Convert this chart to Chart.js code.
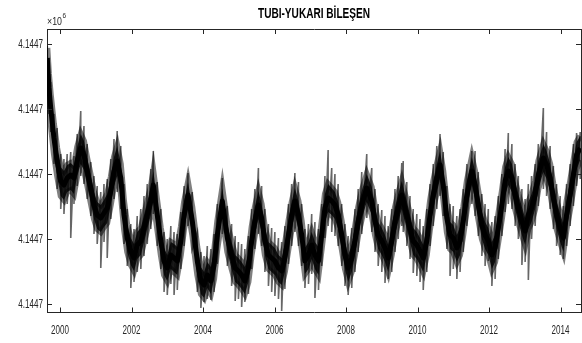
<!DOCTYPE html>
<html>
<head>
<meta charset="utf-8">
<script src="https://cdn.jsdelivr.net/npm/chart.js@4/dist/chart.umd.min.js"></script>
<style>
  html, body { margin: 0; padding: 0; background: #fff; }
  #contenedor { width: 582px; height: 343px; }
</style>
</head>
<body>
<div id="contenedor"><canvas id="grafica"></canvas></div>
<script>
// Tiempo en años decimales
const years = [
  1999.645,1999.69,1999.74,1999.83,1999.92,2000.02,2000.11,2000.20,2000.30,2000.39,
  2000.48,2000.58,2000.67,2000.76,2000.86,2000.95,2001.04,2001.14,2001.23,2001.32,
  2001.42,2001.51,2001.60,2001.70,2001.79,2001.88,2001.98,2002.07,2002.16,2002.26,
  2002.35,2002.44,2002.54,2002.61,2002.72,2002.82,2002.91,2003.00,2003.10,2003.19,
  2003.28,2003.38,2003.47,2003.58,2003.70,2003.84,2003.94,2004.03,2004.12,2004.22,
  2004.31,2004.40,2004.54,2004.68,2004.80,2004.90,2004.99,2005.08,2005.17,2005.27,
  2005.36,2005.45,2005.55,2005.64,2005.73,2005.83,2005.92,2006.01,2006.11,2006.20,
  2006.29,2006.39,2006.48,2006.57,2006.67,2006.76,2006.85,2006.95,2007.04,2007.13,
  2007.23,2007.32,2007.41,2007.50,2007.60,2007.69,2007.78,2007.88,2007.97,2008.06,
  2008.16,2008.25,2008.34,2008.44,2008.58,2008.72,2008.81,2008.90,2009.00,2009.09,
  2009.18,2009.28,2009.37,2009.46,2009.56,2009.60,2009.70,2009.79,2009.88,2009.98,
  2010.07,2010.16,2010.26,2010.35,2010.44,2010.54,2010.63,2010.72,2010.82,2010.91,
  2011.00,2011.10,2011.19,2011.28,2011.38,2011.52,2011.61,2011.70,2011.80,2011.89,
  2011.98,2012.08,2012.17,2012.26,2012.36,2012.45,2012.54,2012.64,2012.73,2012.82,
  2012.92,2013.01,2013.10,2013.19,2013.29,2013.38,2013.52,2013.61,2013.71,2013.80,
  2013.89,2013.99,2014.08,2014.17,2014.27,2014.36,2014.45,2014.55
];

// Componente vertical (mm sobre la marca inferior), valor medio
const mid = [
  246,216,196,166,143,123,119,126,129,126,
  143,156,149,133,116,99,89,86,91,96,
  113,133,143,126,89,66,53,46,59,63,
  76,89,103,119,89,63,43,36,49,46,
  43,63,89,109,83,43,23,19,29,23,
  39,69,103,66,49,36,33,29,23,36,
  63,83,99,86,63,49,46,43,36,33,
  46,69,89,103,89,69,43,49,59,49,
  43,69,96,106,103,99,89,69,49,36,
  46,63,83,99,116,103,83,69,63,56,
  46,63,83,96,109,103,89,76,63,59,
  53,46,63,89,109,126,139,119,86,69,
  66,56,63,83,109,133,119,99,79,69,
  63,49,56,76,99,123,133,126,109,96,
  83,73,89,96,109,129,146,139,126,106,
  89,76,66,89,109,129,149,156
];

// Borde superior e inferior de la zona densa (oscura)
const qHi = [
  256,230,210,180,156,137,133,139,141,138,
  157,170,163,146,129,112,102,99,104,110,
  127,147,158,140,103,79,66,60,72,76,
  89,102,117,133,103,76,56,49,62,60,
  57,77,102,122,97,57,37,32,42,37,
  53,83,116,80,62,49,46,42,37,50,
  77,97,113,100,77,62,59,56,49,46,
  60,83,102,116,103,83,56,62,72,62,
  57,83,110,120,116,112,102,83,62,49,
  59,77,97,113,130,117,97,82,76,69,
  59,77,97,110,123,117,103,89,76,72,
  66,59,77,103,123,140,153,133,100,82,
  79,69,77,97,123,147,133,113,92,82,
  76,62,69,90,113,137,147,140,123,110,
  97,86,102,110,123,143,160,153,140,120,
  103,90,80,103,123,143,162,168
];
const qLo = [
  230,200,180,150,128,108,104,112,114,110,
  128,140,134,119,101,85,75,72,77,81,
  99,118,128,111,75,52,39,33,45,49,
  62,75,89,104,75,49,29,23,35,32,
  29,49,75,95,69,29,10,6,16,10,
  25,55,89,52,35,22,19,15,10,22,
  49,69,85,72,49,35,32,29,22,19,
  32,55,75,89,75,55,30,35,45,35,
  29,55,82,92,89,85,75,55,35,22,
  32,49,69,85,102,89,69,55,49,42,
  32,49,69,82,95,89,75,62,49,45,
  39,32,49,75,95,112,125,105,72,55,
  52,42,49,69,95,119,105,85,65,55,
  49,35,42,62,85,109,119,112,95,82,
  69,59,75,82,95,115,132,125,112,92,
  75,62,52,75,95,115,135,144
];

// Picos superiores del ruido
const hi = [
  258,240,222,190,176,150,145,150,152,148,
  170,193,178,160,142,128,118,112,120,125,
  145,165,173,158,120,95,80,75,88,95,
  108,120,135,153,122,95,72,65,78,72,
  70,92,118,131,112,72,52,48,58,55,
  70,100,126,98,80,68,62,60,55,68,
  95,115,136,118,95,80,76,72,66,62,
  78,100,120,131,122,100,75,80,90,82,
  75,100,128,154,136,130,120,100,80,68,
  76,95,115,132,150,136,115,100,94,88,
  78,95,115,128,141,143,122,108,95,90,
  85,78,95,120,140,158,170,152,118,100,
  98,88,95,115,140,153,153,132,110,100,
  95,82,88,108,130,155,171,160,140,128,
  115,105,120,128,140,160,196,172,158,138,
  120,108,98,120,140,160,171,172
];

// Picos inferiores del ruido
const lo = [
  215,190,172,140,115,95,90,100,66,100,
  118,128,120,105,88,70,60,36,62,46,
  85,105,112,95,60,38,16,22,32,35,
  48,60,75,90,58,35,12,9,20,9,
  14,35,58,78,55,12,-4,2,5,4,
  12,40,70,38,18,3,5,-3,2,10,
  35,55,70,58,32,18,12,8,5,-7,
  15,40,58,72,58,38,16,20,30,6,
  14,38,66,78,72,68,58,38,18,9,
  16,32,52,70,86,72,52,38,32,21,
  25,32,52,65,78,72,58,45,31,28,
  22,14,32,58,78,95,108,88,55,28,
  35,25,32,52,78,100,88,68,48,38,
  43,18,25,45,68,92,100,95,78,65,
  39,42,24,65,78,98,115,108,95,75,
  58,49,45,58,78,98,118,125
];

const xTicks = [2000, 2002, 2004, 2006, 2008, 2010, 2012, 2014];
const yTicks = [0, 65, 130, 195, 260];
const yTickLabel = '4.1447';
const exponente = '6';
const titulo = 'TUBI-YUKARI BİLEŞEN';

const fuente = "'Liberation Sans', Arial, sans-serif";
const colorEje = '#262626';

// texto estrechado en horizontal (la figura original está comprimida)
function textoEstrecho(ctx, txt, x, y, escala, align) {
  ctx.save();
  ctx.translate(x, y);
  ctx.scale(escala, 1);
  ctx.textAlign = align;
  ctx.fillText(txt, 0, 0);
  ctx.restore();
}

// Marcas hacia dentro, etiquetas, título y x10^6, como en MATLAB
const estiloMatlab = {
  id: 'estiloMatlab',
  afterDraw(chart) {
    const ctx = chart.ctx;
    const a = chart.chartArea;
    const sx = chart.scales.x;
    const sy = chart.scales.y;
    ctx.save();
    ctx.strokeStyle = colorEje;
    ctx.lineWidth = 1;
    ctx.beginPath();
    xTicks.forEach(v => {
      const px = Math.round(sx.getPixelForValue(v)) + 0.5;
      ctx.moveTo(px, a.bottom); ctx.lineTo(px, a.bottom - 5);
      ctx.moveTo(px, a.top); ctx.lineTo(px, a.top + 5);
    });
    yTicks.forEach(v => {
      const py = Math.round(sy.getPixelForValue(v)) + 0.5;
      ctx.moveTo(a.left, py); ctx.lineTo(a.left + 5, py);
      ctx.moveTo(a.right, py); ctx.lineTo(a.right - 5, py);
    });
    ctx.stroke();

    ctx.fillStyle = colorEje;
    ctx.textBaseline = 'middle';
    ctx.font = '13px ' + fuente;
    xTicks.forEach(v => {
      textoEstrecho(ctx, String(v), sx.getPixelForValue(v), a.bottom + 17.5, 0.62, 'center');
    });
    yTicks.forEach(v => {
      textoEstrecho(ctx, yTickLabel, a.left - 4, sy.getPixelForValue(v) + 0.5, 0.62, 'right');
    });

    ctx.fillStyle = '#000';
    ctx.font = 'bold 14px ' + fuente;
    textoEstrecho(ctx, titulo, (a.left + a.right) / 2, 14.5, 0.72, 'center');

    ctx.fillStyle = colorEje;
    ctx.textBaseline = 'alphabetic';
    ctx.font = '11px ' + fuente;
    textoEstrecho(ctx, '\u00d710', a.left, 24.5, 0.8, 'left');
    const w = ctx.measureText('\u00d710').width * 0.8;
    ctx.font = '8px ' + fuente;
    textoEstrecho(ctx, exponente, a.left + w + 0.5, 18, 0.8, 'left');
    ctx.restore();
  }
};

const puntos = arr => years.map((t, i) => ({ x: t, y: arr[i] }));

const ctx = document.getElementById('grafica').getContext('2d');
new Chart(ctx, {
  type: 'line',
  data: {
    datasets: [
      {
        // zona densa
        data: puntos(qHi),
        borderWidth: 6,
        borderColor: 'rgba(0,0,0,0.5)',
        backgroundColor: 'rgba(0,0,0,0.82)',
        fill: '+1',
        pointRadius: 0,
        tension: 0
      },
      {
        data: puntos(qLo),
        borderWidth: 6,
        borderColor: 'rgba(0,0,0,0.5)',
        fill: false,
        pointRadius: 0,
        tension: 0
      },
      {
        // ruido: trazos entre pico superior e inferior
        data: years.flatMap((t, i) => [{ x: t, y: hi[i] }, { x: t, y: lo[i] }]),
        borderColor: 'rgba(0,0,0,0.6)',
        borderWidth: 1.6,
        pointRadius: 0,
        tension: 0
      },
      {
        data: puntos(mid),
        borderColor: '#000',
        borderWidth: 5,
        borderJoinStyle: 'round',
        pointRadius: 0,
        tension: 0
      }
    ]
  },
  options: {
    responsive: true,
    maintainAspectRatio: false,
    animation: false,
    layout: { padding: { top: 29, left: 0, right: 0, bottom: 0 } },
    plugins: {
      legend: { display: false },
      tooltip: { enabled: false },
      title: { display: false }
    },
    scales: {
      x: {
        type: 'linear',
        position: 'bottom',
        min: 1999.636,
        max: 2014.573,
        afterBuildTicks: s => { s.ticks = xTicks.map(v => ({ value: v })); },
        afterFit: s => { s.height = 30.5; },
        ticks: { display: false },
        grid: { display: false, drawTicks: false },
        border: { display: true, color: colorEje, width: 1 }
      },
      x2: {
        type: 'linear',
        position: 'top',
        min: 1999.636,
        max: 2014.573,
        afterFit: s => { s.height = 0; },
        ticks: { display: false },
        grid: { display: false, drawTicks: false },
        border: { display: true, color: colorEje, width: 1 }
      },
      y: {
        type: 'linear',
        position: 'left',
        min: -8.5,
        max: 275,
        afterBuildTicks: s => { s.ticks = yTicks.map(v => ({ value: v })); },
        afterFit: s => { s.width = 47; },
        ticks: { display: false },
        grid: { display: false, drawTicks: false },
        border: { display: true, color: colorEje, width: 1 }
      },
      y2: {
        type: 'linear',
        position: 'right',
        min: -8.5,
        max: 275,
        afterFit: s => { s.width = 1; },
        ticks: { display: false },
        grid: { display: false, drawTicks: false },
        border: { display: true, color: colorEje, width: 1 }
      }
    }
  },
  plugins: [estiloMatlab]
});
</script>
</body>
</html>
